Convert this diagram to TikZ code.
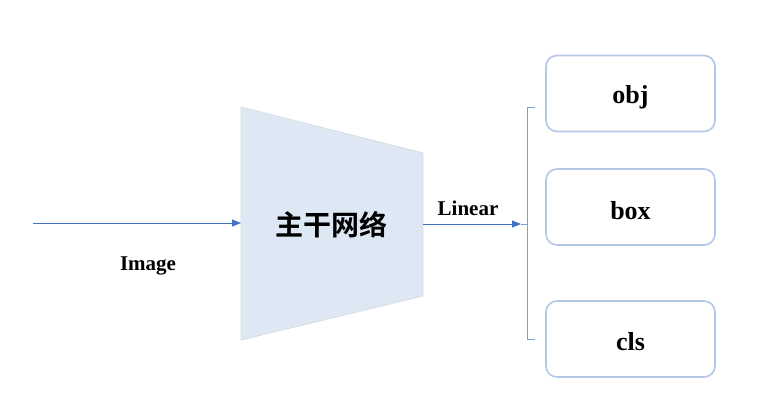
\documentclass[tikz,border=0pt]{standalone}
\usepackage{fontspec}
\setmainfont{Liberation Serif}
\newfontfamily\cjk{Noto Sans CJK SC}[BoldFont={Noto Sans CJK SC Bold}]
\usetikzlibrary{arrows.meta}
\definecolor{arrblue}{HTML}{4472C4}
\definecolor{brblue}{HTML}{7C9FDA}
\definecolor{boxblue}{HTML}{B4C7E7}
\definecolor{trapfill}{HTML}{DEE8F4}
\definecolor{trapdraw}{HTML}{D6DCE4}
\tikzset{
  conn/.style={draw=arrblue, line width=0.8pt, -{Triangle[length=9pt,width=7pt]}},
  brack/.style={draw=brblue, line width=1pt},
  outbox/.style={draw=boxblue, line width=1.6pt, rounded corners=11pt, minimum width=169pt, minimum height=76pt, inner sep=0pt},
  boxtext/.style={font=\fontsize{26}{30}\selectfont\bfseries, inner sep=0pt},
  lbl/.style={font=\fontsize{21}{25}\selectfont\bfseries, inner sep=0pt}
}
\begin{document}
\begin{tikzpicture}[x=1pt,y=-1pt]
\useasboundingbox (0,0) rectangle (757,412);
% trapezoid backbone
\coordinate (tl) at (241,107);
\coordinate (tr) at (423,153);
\coordinate (br) at (423,296);
\coordinate (bl) at (241,340);
\fill[trapfill, draw=trapdraw, line width=0.8pt] (tl) -- (tr) -- (br) -- (bl) -- cycle;
\node[font=\cjk\fontsize{28}{32}\selectfont\bfseries, inner sep=0pt] (bb) at (331,225) {主干网络};
\coordinate (inL) at (241,223);
\coordinate (outR) at (423,224);
% input arrow
\coordinate (start) at (33,223);
\draw[conn] (start) -- (inL);
\node[lbl] (img) at (148,265.5) {Image};
% output arrow
\coordinate (tip) at (521,224);
\coordinate (bmid) at (527,224);
\draw[conn] (outR) -- (tip);
\draw[brack] (tip) -- (bmid);
\node[lbl] (lin) at (468,208) {Linear};
% bracket
\coordinate (btop) at (527,107);
\coordinate (bbot) at (527,339);
\coordinate (btopr) at (535,107);
\coordinate (bbotr) at (535,339);
\draw[brack] (btopr) -- (btop) -- (bbot) -- (bbotr);
% output boxes
\node[outbox] (obj) at (630.5,93.5) {};
\node[outbox] (box) at (630.5,207) {};
\node[outbox] (cls) at (630.5,339) {};
\node[boxtext] (objt) at (630.5,97.5) {obj};
\node[boxtext] (boxt) at (630.5,210.5) {box};
\node[boxtext] (clst) at (630.5,341.5) {cls};
\end{tikzpicture}
\end{document}
